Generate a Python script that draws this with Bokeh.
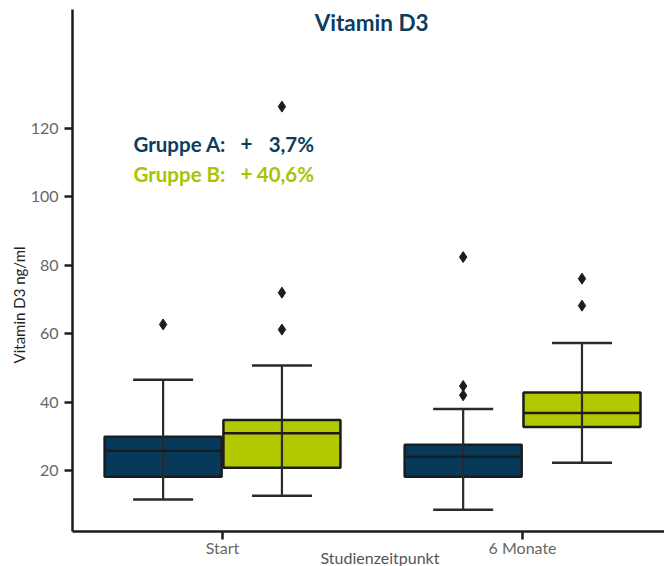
from bokeh.plotting import figure
from bokeh.models import Range1d, FixedTicker, Label, Title
from bokeh.embed import file_html
from bokeh.resources import INLINE

# ---- data ----
timepoints = ["Start", "6 Monate"]
group_names = ["Gruppe A", "Gruppe B"]
group_colors = ["#073a5a", "#b2c800"]

q1_A = [18.2, 18.2]
med_A = [25.8, 24.0]
q3_A = [29.9, 27.5]
lo_A = [11.5, 8.5]
hi_A = [46.5, 38.0]
out_A = [[62.7], [82.4, 44.7, 42.0]]

q1_B = [20.8, 32.7]
med_B = [30.9, 36.8]
q3_B = [34.8, 42.8]
lo_B = [12.6, 22.3]
hi_B = [50.7, 57.3]
out_B = [[126.4, 72.0, 61.2], [76.1, 68.2]]

change_sign = ["+", "+"]
change_value = ["3,7%", "40,6%"]
y_ticks = [20, 40, 60, 80, 100, 120]

FONT = "Lato"

p = figure(width=664, height=566, output_backend="svg", toolbar_location=None,
           x_range=Range1d(0.5, 2.473), y_range=Range1d(2.16, 154.8),
           min_border_left=72, min_border_right=0, min_border_top=9,
           min_border_bottom=35)
p.outline_line_color = None
p.grid.visible = False
p.background_fill_color = "white"

stats = [
    (q1_A, med_A, q3_A, lo_A, hi_A, out_A, -0.198, group_colors[0]),
    (q1_B, med_B, q3_B, lo_B, hi_B, out_B, 0.198, group_colors[1]),
]
bw = 0.39
cw = 0.2
edge = "#1c1c1c"
for q1, med, q3, lo, hi, outs, off, col in stats:
    xs = [i + 1 + off for i in range(len(timepoints))]
    p.vbar(x=xs, width=bw, top=q3, bottom=q1, fill_color=col,
           line_color=edge, line_width=2.5)
    p.segment(x0=xs, y0=lo, x1=xs, y1=hi, line_color="#2a2a2a", line_width=2.2)
    p.segment(x0=[x - cw / 2 for x in xs], y0=lo, x1=[x + cw / 2 for x in xs], y1=lo,
              line_color="#2a2a2a", line_width=2.5)
    p.segment(x0=[x - cw / 2 for x in xs], y0=hi, x1=[x + cw / 2 for x in xs], y1=hi,
              line_color="#2a2a2a", line_width=2.5)
    p.segment(x0=[x - bw / 2 for x in xs], y0=med, x1=[x + bw / 2 for x in xs], y1=med,
              line_color=edge, line_width=2.5)
    ox, oy = [], []
    for x, o in zip(xs, outs):
        for v in o:
            ox.append(x)
            oy.append(v)
    p.scatter(ox, oy, marker="diamond", size=11, fill_color="#1c1c1c",
              line_color="#1c1c1c")

# axes
for ax in (p.xaxis[0], p.yaxis[0]):
    ax.axis_line_color = "#1c1c1c"
    ax.axis_line_width = 2.5
    ax.major_tick_line_color = "#1c1c1c"
    ax.major_tick_line_width = 2.5
    ax.major_tick_out = 8
    ax.major_tick_in = 0
    ax.minor_tick_line_color = None
    ax.major_label_text_font = FONT
    ax.major_label_text_font_size = "16px"
    ax.major_label_text_color = "#666666"

p.yaxis.ticker = FixedTicker(ticks=y_ticks)
p.yaxis.major_label_standoff = 6
p.xaxis.ticker = FixedTicker(ticks=[i + 1 for i in range(len(timepoints))])
p.xaxis.major_label_overrides = {i + 1: t for i, t in enumerate(timepoints)}
p.xaxis.major_label_standoff = -2

# axis titles
p.add_layout(Title(text="Vitamin D3 ng/ml", align="left", offset=168, standoff=0,
                   text_font=FONT, text_font_size="15px", text_font_style="normal",
                   text_color="#222222"), "left")
p.add_layout(Title(text="Studienzeitpunkt", align="left", offset=248, standoff=-24,
                   vertical_align="top",
                   text_font=FONT, text_font_size="16px", text_font_style="normal",
                   text_color="#555555"), "below")

# title
p.add_layout(Label(x=1.497, y=151.0, text="Vitamin D3", text_align="center",
                   text_baseline="middle", text_font=FONT, text_font_size="22.5px",
                   text_font_style="bold", text_color="#0d3c5e"))

# annotations
ann_y = [115.6, 106.8]
for i in range(len(group_names)):
    c = "#0d3c5e" if i == 0 else "#aac400"
    p.add_layout(Label(x=0.703, y=ann_y[i], text=group_names[i] + ":",
                       text_align="left", text_baseline="middle", text_font=FONT,
                       text_font_size="20.5px", text_font_style="bold", text_color=c))
    p.add_layout(Label(x=1.08, y=ann_y[i], text=change_sign[i],
                       text_align="center", text_baseline="middle", text_font=FONT,
                       text_font_size="20.5px", text_font_style="bold", text_color=c))
    p.add_layout(Label(x=1.305, y=ann_y[i], text=change_value[i],
                       text_align="right", text_baseline="middle", text_font=FONT,
                       text_font_size="20.5px", text_font_style="bold", text_color=c))

open("out.html", "w").write(file_html(p, INLINE))
